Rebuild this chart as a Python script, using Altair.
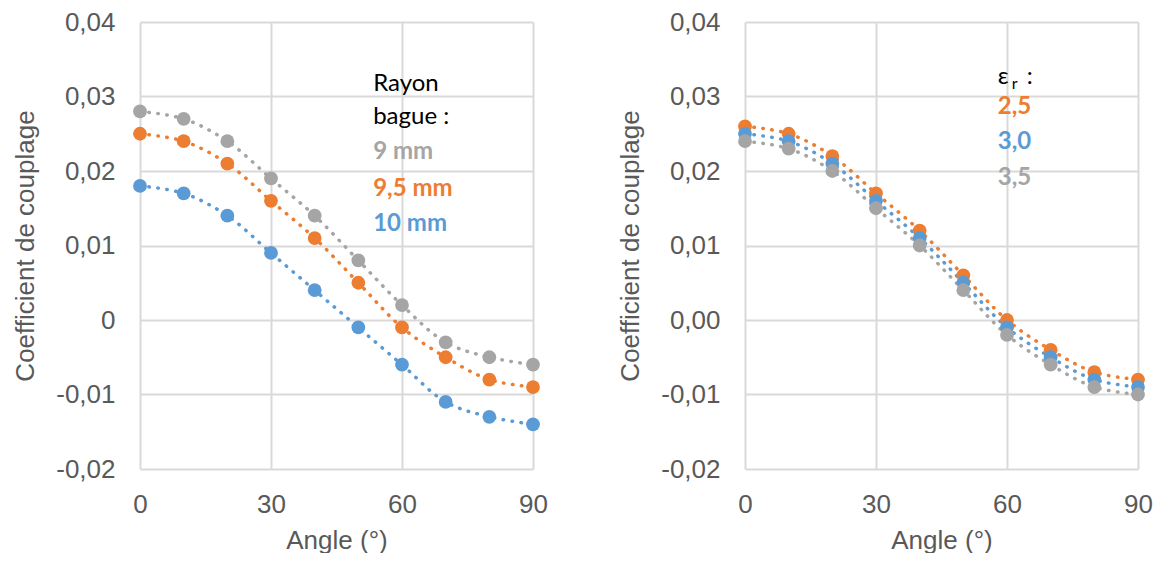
import altair as alt
import pandas as pd

angles = [0, 10, 20, 30, 40, 50, 60, 70, 80, 90]

# Left panel: ring radius
left_9 = [0.028, 0.027, 0.024, 0.019, 0.014, 0.008, 0.002, -0.003, -0.005, -0.006]
left_95 = [0.025, 0.024, 0.021, 0.016, 0.011, 0.005, -0.001, -0.005, -0.008, -0.009]
left_10 = [0.018, 0.017, 0.014, 0.009, 0.004, -0.001, -0.006, -0.011, -0.013, -0.014]

# Right panel: permittivity
right_25 = [0.026, 0.025, 0.022, 0.017, 0.012, 0.006, 0.000, -0.004, -0.007, -0.008]
right_30 = [0.025, 0.024, 0.021, 0.016, 0.011, 0.005, -0.001, -0.005, -0.008, -0.009]
right_35 = [0.024, 0.023, 0.020, 0.015, 0.010, 0.004, -0.002, -0.006, -0.009, -0.010]

left_names = ["9 mm", "9,5 mm", "10 mm"]
right_names = ["2,5", "3,0", "3,5"]
left_colors = ["#A5A5A5", "#ED7D31", "#5B9BD5"]
right_colors = ["#ED7D31", "#5B9BD5", "#A5A5A5"]

# in-plot legend text (baseline positions in data units)
left_ann_text = ["Rayon", "bague :", "9 mm", "9,5 mm", "10 mm"]
left_ann_color = ["#000000", "#000000", "#A5A5A5", "#ED7D31", "#5B9BD5"]
left_ann_bold = [False, False, True, True, True]
left_ann_y = [0.0307, 0.0263, 0.0216, 0.0167, 0.0120]
left_ann_x = 53.4

right_ann_text = ["2,5", "3,0", "3,5"]
right_ann_color = ["#ED7D31", "#5B9BD5", "#A5A5A5"]
right_ann_y = [0.0276, 0.0230, 0.0181]
right_ann_x = 57.9
right_head_y = 0.0317

AXFONT = "Liberation Sans"
ANFONT = "Lato"
GRID = "#D9D9D9"
TXT = "#595959"


def long_df(names, series):
    rows = []
    for n, s in zip(names, series):
        for a, v in zip(angles, s):
            rows.append({"angle": a, "value": v, "series": n})
    return pd.DataFrame(rows)


def txt(df, size, bold, dx=0, dy=0):
    return alt.Chart(df).mark_text(
        align="left", baseline="alphabetic", fontSize=size, font=ANFONT,
        fontWeight="bold" if bold else "normal", dx=dx, dy=dy).encode(
        x=alt.X("x:Q"), y=alt.Y("y:Q"), text="t:N",
        color=alt.Color("c:N", scale=None))


def panel(names, series, colors, extra_layers, zero_label):
    df = long_df(names, series)
    if zero_label:
        lab = "datum.value == 0 ? '0' : (datum.value < 0 ? '-' : '') + replace(format(abs(datum.value), '.2f'), '.', ',')"
    else:
        lab = "(datum.value < 0 ? '-' : '') + replace(format(abs(datum.value), '.2f'), '.', ',')"
    x = alt.X("angle:Q", scale=alt.Scale(domain=[0, 90], nice=False),
              axis=alt.Axis(values=[0, 30, 60, 90], title="Angle  (°)", grid=True,
                            gridColor=GRID, gridWidth=2, ticks=False, domain=False,
                            labelFontSize=26, labelColor=TXT, labelPadding=22,
                            labelFlush=False, labelOverlap=False,
                            labelFont=AXFONT, titleFont=AXFONT,
                            titleFontSize=26, titleColor=TXT, titleFontWeight="normal",
                            titlePadding=10))
    y = alt.Y("value:Q", scale=alt.Scale(domain=[-0.02, 0.04], nice=False),
              axis=alt.Axis(values=[-0.02, -0.01, 0, 0.01, 0.02, 0.03, 0.04],
                            title="Coefficient de couplage", grid=True,
                            gridColor=GRID, gridWidth=2, ticks=False, domain=False,
                            labelFontSize=26, labelColor=TXT, labelPadding=25,
                            labelFlush=False, labelOverlap=False,
                            labelExpr=lab, labelFont=AXFONT, titleFont=AXFONT,
                            titleFontSize=26, titleColor=TXT, titleFontWeight="normal",
                            titlePadding=17))
    color = alt.Color("series:N", scale=alt.Scale(domain=names, range=colors), legend=None)
    base = alt.Chart(df)
    lines = base.mark_line(interpolate="catmull-rom", strokeDash=[0.5, 8.5], strokeWidth=3.5,
                           strokeCap="round").encode(x=x, y=y, color=color, detail="series:N")
    pts = base.mark_circle(size=190, opacity=1).encode(x=x, y=y, color=color)
    return alt.layer(lines, pts, *extra_layers).properties(width=393, height=447)


ldf = pd.DataFrame({"t": left_ann_text, "c": left_ann_color, "b": left_ann_bold,
                    "y": left_ann_y, "x": [left_ann_x] * len(left_ann_text)})
left_extra = [txt(ldf[~ldf["b"]].drop(columns=["b"]), 24, False),
              txt(ldf[ldf["b"]].drop(columns=["b"]), 24, True)]

rdf = pd.DataFrame({"t": right_ann_text, "c": right_ann_color,
                    "y": right_ann_y, "x": [right_ann_x] * len(right_ann_text)})
head_eps = pd.DataFrame({"t": ["\u03b5"], "c": ["#000000"], "y": [right_head_y], "x": [right_ann_x]})
head_r = pd.DataFrame({"t": ["r"], "c": ["#000000"], "y": [right_head_y], "x": [right_ann_x]})
head_col = pd.DataFrame({"t": [":"], "c": ["#000000"], "y": [right_head_y], "x": [right_ann_x]})
right_extra = [txt(rdf, 24, True),
               txt(head_eps, 24, False),
               txt(head_r, 16, False, dx=14, dy=5),
               txt(head_col, 24, False, dx=29)]

left = panel(left_names, [left_9, left_95, left_10], left_colors, left_extra, True)
right = panel(right_names, [right_25, right_30, right_35], right_colors, right_extra, False)

chart = alt.hconcat(left, right, spacing=69).resolve_scale(color="independent").configure_view(
    stroke=None).properties(padding={"left": 4, "top": 1, "right": 0, "bottom": 0})

chart.save("out.html", embed_options={"renderer": "svg", "actions": False})
